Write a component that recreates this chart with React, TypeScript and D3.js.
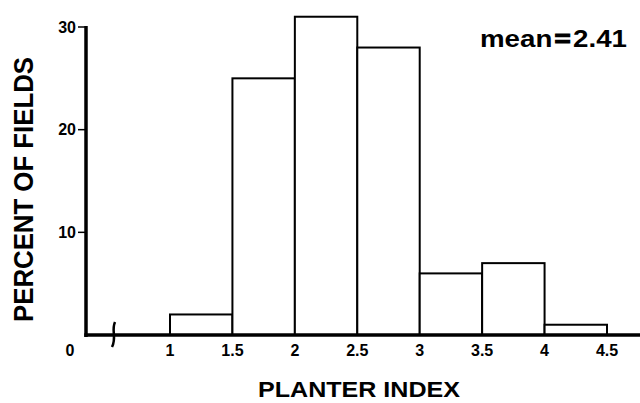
import React from "react";
import * as d3 from "d3";

const binStarts = [1, 1.5, 2, 2.5, 3, 3.5, 4];
const binWidth = 0.5;
const percents = [2, 25, 31, 28, 6, 7, 1];
const xTickValues = [1, 1.5, 2, 2.5, 3, 3.5, 4, 4.5];
const xTickLabels = ["1", "1.5", "2", "2.5", "3", "3.5", "4", "4.5"];
const yTickValues = [10, 20, 30];
const yTickLabels = ["10", "20", "30"];
const meanWord = "mean";
const meanValue = "2.41";

const W = 640;
const H = 403;
const FONT = "'Liberation Sans', Arial, Helvetica, sans-serif";

export default function App() {
  const x = d3.scaleLinear().domain([1, 4.5]).range([170, 607]);
  const y = d3.scaleLinear().domain([0, 30]).range([335, 27]);
  const axisX = 86;
  const baseY = y(0);

  return (
    <svg
      width={W}
      height={H}
      viewBox={`0 0 ${W} ${H}`}
      style={{ position: "absolute", left: 0, top: 0, background: "#fff" }}
    >
      <rect x={0} y={0} width={W} height={H} fill="#fff" />
      {/* bars */}
      {binStarts.map((b, i) => (
        <rect
          key={i}
          x={x(b)}
          y={y(percents[i])}
          width={x(b + binWidth) - x(b)}
          height={baseY - y(percents[i])}
          fill="#fff"
          stroke="#000"
          strokeWidth={2}
        />
      ))}
      {/* y axis */}
      <line x1={axisX} x2={axisX} y1={y(30) - 1} y2={baseY + 2} stroke="#000" strokeWidth={3.5} />
      {yTickValues.map((v, i) => (
        <g key={v}>
          <line x1={axisX - 8} x2={axisX} y1={y(v)} y2={y(v)} stroke="#000" strokeWidth={1.5} />
          <text
            x={axisX - 10}
            y={y(v)}
            dy="0.36em"
            textAnchor="end"
            fontFamily={FONT}
            fontWeight="bold"
            fontSize={16}
          >
            {yTickLabels[i]}
          </text>
        </g>
      ))}
      {/* x axis */}
      <line x1={axisX - 1.75} x2={W} y1={baseY} y2={baseY} stroke="#000" strokeWidth={3.5} />
      {/* axis break */}
      <path
        d={`M115,${baseY - 13} C111,${baseY - 4} 117,${baseY + 2} 112,${baseY + 12}`}
        fill="none"
        stroke="#000"
        strokeWidth={2.5}
      />
      {xTickValues.map((v, i) => (
        <text
          key={v}
          x={x(v)}
          y={baseY + 21}
          textAnchor="middle"
          fontFamily={FONT}
          fontWeight="bold"
          fontSize={16}
        >
          {xTickLabels[i]}
        </text>
      ))}
      <text
        x={70}
        y={baseY + 21}
        textAnchor="middle"
        fontFamily={FONT}
        fontWeight="bold"
        fontSize={16}
      >
        0
      </text>
      {/* titles */}
      <text
        x={258}
        y={397}
        fontFamily={FONT}
        fontWeight="bold"
        fontSize={22}
        textLength={202}
        lengthAdjust="spacingAndGlyphs"
      >
        PLANTER INDEX
      </text>
      <text
        transform="translate(33,322) rotate(-90)"
        fontFamily={FONT}
        fontWeight="bold"
        fontSize={27}
        textLength={265}
        lengthAdjust="spacingAndGlyphs"
      >
        PERCENT OF FIELDS
      </text>
      <text
        x={480}
        y={47}
        fontFamily={FONT}
        fontWeight="bold"
        fontSize={24}
        textLength={147}
        lengthAdjust="spacingAndGlyphs"
      >
        <tspan>{meanWord}</tspan>
        <tspan dx={2} stroke="#000" strokeWidth={1.2}>=</tspan>
        <tspan dx={2}>{meanValue}</tspan>
      </text>
    </svg>
  );
}
